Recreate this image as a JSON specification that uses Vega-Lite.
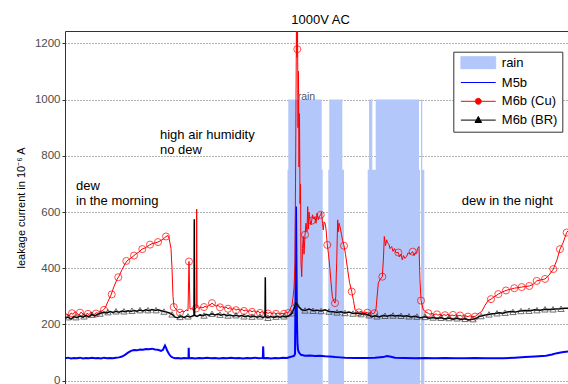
{
  "$schema": "https://vega.github.io/schema/vega-lite/v6.json",
  "autosize": {"type": "none"},
  "padding": {"left": 65, "top": 31, "right": 0, "bottom": 0},
  "width": 503,
  "height": 353,
  "background": "white",
  "config": {
    "font": "Liberation Sans",
    "view": {"stroke": null},
    "axis": {"labelFont": "Liberation Sans", "titleFont": "Liberation Sans"}
  },
  "title": {"text": "1000V AC", "fontSize": 13, "fontWeight": "normal", "color": "#000", "font": "Liberation Sans", "anchor": "middle", "frame": "group", "baseline": "alphabetic", "offset": 8, "dx": 4, "dy": 13.5},
  "datasets": {
    "rain": [
      {"t1": 222.5, "t2": 257.7, "top": 750},
      {"t1": 223.3, "t2": 256.7, "top": 1000},
      {"t1": 263.3, "t2": 279, "top": 750},
      {"t1": 264.3, "t2": 277.3, "top": 1000},
      {"t1": 302.7, "t2": 355, "top": 750},
      {"t1": 356, "t2": 359.3, "top": 750},
      {"t1": 304, "t2": 307.3, "top": 1000},
      {"t1": 310.7, "t2": 354, "top": 1000},
      {"t1": 356, "t2": 357.3, "top": 1000}
    ],
    "m5b": [
      {"t":0,"v":80},{"t":3,"v":82},{"t":6,"v":79},{"t":9,"v":81},{"t":12,"v":80},{"t":15,"v":82},{"t":18,"v":79},{"t":21,"v":81},{"t":24,"v":80},{"t":27,"v":82},{"t":30,"v":80},{"t":33,"v":81},{"t":36,"v":79},{"t":39,"v":82},{"t":42,"v":80},{"t":45,"v":81},{"t":48,"v":80},{"t":51,"v":82},{"t":54,"v":83},{"t":57,"v":86},{"t":60,"v":92},{"t":63,"v":100},{"t":66,"v":106},{"t":69,"v":109},{"t":72,"v":108},{"t":75,"v":111},{"t":78,"v":110},{"t":81,"v":113},{"t":84,"v":112},{"t":87,"v":114},{"t":90,"v":111},{"t":93,"v":110},{"t":96,"v":106},{"t":98,"v":110},{"t":99,"v":118},{"t":100,"v":125},{"t":101,"v":118},{"t":102,"v":108},{"t":104,"v":95},{"t":106,"v":86},{"t":108,"v":82},{"t":110,"v":80},{"t":113,"v":81},{"t":116,"v":79},{"t":119,"v":81},{"t":122,"v":80},{"t":123.5,"v":80},{"t":123.7,"v":117},{"t":124,"v":80},{"t":127,"v":81},{"t":130,"v":79},{"t":134,"v":81},{"t":138,"v":80},{"t":142,"v":82},{"t":146,"v":80},{"t":150,"v":81},{"t":154,"v":79},{"t":158,"v":81},{"t":162,"v":80},{"t":166,"v":82},{"t":170,"v":80},{"t":174,"v":81},{"t":178,"v":79},{"t":182,"v":81},{"t":186,"v":80},{"t":190,"v":82},{"t":194,"v":80},{"t":197.8,"v":81},{"t":198.2,"v":122},{"t":198.6,"v":80},{"t":202,"v":81},{"t":206,"v":79},{"t":210,"v":81},{"t":214,"v":80},{"t":218,"v":82},{"t":222,"v":81},{"t":226,"v":85},{"t":229,"v":88},{"t":230,"v":95},{"t":230.5,"v":300},{"t":231,"v":620},{"t":231.5,"v":400},{"t":232,"v":200},{"t":232.5,"v":130},{"t":233,"v":110},{"t":234,"v":100},{"t":236,"v":92},{"t":240,"v":89},{"t":245,"v":90},{"t":250,"v":88},{"t":255,"v":89},{"t":260,"v":87},{"t":265,"v":86},{"t":270,"v":84},{"t":275,"v":83},{"t":280,"v":82},{"t":290,"v":81},{"t":300,"v":81},{"t":310,"v":82},{"t":318,"v":84},{"t":322,"v":88},{"t":326,"v":85},{"t":330,"v":82},{"t":340,"v":81},{"t":350,"v":80},{"t":360,"v":81},{"t":370,"v":80},{"t":380,"v":81},{"t":390,"v":80},{"t":400,"v":80},{"t":410,"v":81},{"t":420,"v":80},{"t":430,"v":80},{"t":438,"v":80},{"t":450,"v":82},{"t":460,"v":84},{"t":470,"v":86},{"t":481,"v":89},{"t":487,"v":93},{"t":492,"v":98},{"t":497,"v":101},{"t":503,"v":104}
    ],
    "cu": [
      {"t":0,"v":232},{"t":2,"v":238},{"t":4,"v":229},{"t":6,"v":241},{"t":8,"v":236},{"t":10,"v":246},{"t":12,"v":240},{"t":14,"v":233},{"t":16,"v":244},{"t":18,"v":237},{"t":20,"v":229},{"t":22,"v":240},{"t":24,"v":235},{"t":26,"v":244},{"t":28,"v":231},{"t":30,"v":239},{"t":32,"v":242},{"t":34,"v":236},{"t":36,"v":247},{"t":38,"v":250},{"t":40,"v":258},{"t":43,"v":282},{"t":46,"v":305},{"t":49,"v":335},{"t":52,"v":360},{"t":54,"v":372},{"t":57,"v":395},{"t":60,"v":415},{"t":62,"v":426},{"t":65,"v":434},{"t":68,"v":442},{"t":71,"v":451},{"t":74,"v":458},{"t":77,"v":468},{"t":80,"v":472},{"t":83,"v":479},{"t":86,"v":486},{"t":89,"v":489},{"t":92,"v":492},{"t":95,"v":497},{"t":98,"v":503},{"t":101,"v":513},{"t":103,"v":516},{"t":104,"v":508},{"t":106,"v":470},{"t":107,"v":400},{"t":108,"v":300},{"t":109,"v":262},{"t":111,"v":255},{"t":113,"v":245},{"t":115,"v":242},{"t":117,"v":248},{"t":119,"v":244},{"t":121,"v":252},{"t":123,"v":249},{"t":124,"v":424},{"t":125,"v":255},{"t":127,"v":256},{"t":129,"v":252},{"t":131.3,"v":258},{"t":131.7,"v":610},{"t":132.1,"v":262},{"t":134,"v":257},{"t":136,"v":262},{"t":138,"v":259},{"t":140,"v":265},{"t":142,"v":261},{"t":144,"v":268},{"t":146,"v":272},{"t":147,"v":276},{"t":149,"v":270},{"t":151,"v":265},{"t":153,"v":268},{"t":155,"v":261},{"t":157,"v":264},{"t":159,"v":258},{"t":161,"v":262},{"t":163,"v":256},{"t":165,"v":260},{"t":167,"v":253},{"t":169,"v":257},{"t":171,"v":251},{"t":173,"v":255},{"t":175,"v":250},{"t":177,"v":254},{"t":179,"v":248},{"t":181,"v":252},{"t":183,"v":246},{"t":185,"v":250},{"t":187,"v":245},{"t":189,"v":249},{"t":191,"v":243},{"t":193,"v":247},{"t":195,"v":241},{"t":197,"v":246},{"t":199,"v":240},{"t":201,"v":244},{"t":203,"v":239},{"t":205,"v":243},{"t":207,"v":238},{"t":209,"v":242},{"t":211,"v":238},{"t":213,"v":241},{"t":215,"v":237},{"t":217,"v":240},{"t":219,"v":238},{"t":221,"v":242},{"t":223,"v":241},{"t":225,"v":252},{"t":227,"v":270},{"t":228,"v":295},{"t":229,"v":330},{"t":230,"v":420},{"t":230.5,"v":700},{"t":231,"v":1000},{"t":231.5,"v":1300},{"t":232,"v":1150},{"t":232.5,"v":1300},{"t":233,"v":900},{"t":233.5,"v":1100},{"t":234,"v":760},{"t":234.5,"v":950},{"t":235,"v":630},{"t":235.5,"v":700},{"t":236,"v":420},{"t":236.7,"v":370},{"t":237.5,"v":470},{"t":238.3,"v":513},{"t":239,"v":450},{"t":240,"v":519},{"t":241,"v":560},{"t":242,"v":530},{"t":242.7,"v":619},{"t":243.5,"v":540},{"t":244,"v":600},{"t":245,"v":572},{"t":246,"v":555},{"t":246.7,"v":569},{"t":247.5,"v":590},{"t":248.5,"v":575},{"t":250,"v":584},{"t":251,"v":560},{"t":252,"v":595},{"t":253.3,"v":572},{"t":254.5,"v":585},{"t":255.7,"v":590},{"t":256.5,"v":600},{"t":257.5,"v":560},{"t":258.3,"v":536},{"t":259,"v":565},{"t":260,"v":561},{"t":261,"v":540},{"t":262.3,"v":483},{"t":263.5,"v":450},{"t":265,"v":394},{"t":266,"v":350},{"t":267.3,"v":300},{"t":268.5,"v":285},{"t":270,"v":276},{"t":270.8,"v":300},{"t":271.3,"v":380},{"t":271.7,"v":418},{"t":272.2,"v":500},{"t":272.7,"v":572},{"t":273.3,"v":530},{"t":274,"v":560},{"t":275,"v":548},{"t":276.5,"v":520},{"t":277.5,"v":500},{"t":279,"v":480},{"t":280.5,"v":450},{"t":282.7,"v":394},{"t":284.5,"v":350},{"t":286.7,"v":317},{"t":288.5,"v":285},{"t":290,"v":252},{"t":292,"v":247},{"t":294,"v":243},{"t":296,"v":246},{"t":298,"v":241},{"t":300,"v":244},{"t":302.3,"v":242},{"t":304,"v":239},{"t":306,"v":243},{"t":308,"v":238},{"t":309.3,"v":240},{"t":311,"v":255},{"t":313.3,"v":347},{"t":315,"v":360},{"t":317.3,"v":370},{"t":318.5,"v":440},{"t":319.3,"v":513},{"t":320.5,"v":480},{"t":321.7,"v":501},{"t":322.5,"v":490},{"t":324,"v":485},{"t":325,"v":470},{"t":326.7,"v":477},{"t":328,"v":460},{"t":329.5,"v":470},{"t":331,"v":455},{"t":333.3,"v":456},{"t":334.5,"v":440},{"t":336,"v":450},{"t":337.3,"v":430},{"t":338.5,"v":445},{"t":340,"v":435},{"t":341.7,"v":442},{"t":343,"v":455},{"t":345,"v":450},{"t":347.7,"v":459},{"t":349,"v":445},{"t":350,"v":455},{"t":351.7,"v":453},{"t":352.5,"v":470},{"t":354,"v":477},{"t":355,"v":359},{"t":356,"v":285},{"t":358,"v":255},{"t":360,"v":246},{"t":362,"v":242},{"t":363.3,"v":240},{"t":365,"v":236},{"t":367,"v":240},{"t":369,"v":234},{"t":371,"v":238},{"t":373,"v":233},{"t":375,"v":237},{"t":377,"v":231},{"t":379,"v":235},{"t":381,"v":232},{"t":383,"v":236},{"t":385,"v":230},{"t":387,"v":234},{"t":389,"v":231},{"t":391,"v":235},{"t":393,"v":230},{"t":395,"v":233},{"t":397,"v":229},{"t":399,"v":234},{"t":401,"v":230},{"t":403,"v":228},{"t":405,"v":231},{"t":407,"v":227},{"t":409,"v":229},{"t":410,"v":228},{"t":413,"v":238},{"t":416.7,"v":246},{"t":420,"v":268},{"t":423,"v":285},{"t":426,"v":290},{"t":429,"v":298},{"t":433.3,"v":308},{"t":437,"v":315},{"t":441,"v":321},{"t":445,"v":325},{"t":449.3,"v":329},{"t":453,"v":331},{"t":456.7,"v":333},{"t":460,"v":335},{"t":464.3,"v":337},{"t":468,"v":342},{"t":471.7,"v":355},{"t":475,"v":358},{"t":480,"v":362},{"t":484,"v":375},{"t":488.3,"v":397},{"t":492,"v":430},{"t":495,"v":468},{"t":498,"v":490},{"t":501.7,"v":527},{"t":503,"v":533}
    ],
    "cu_marks": [
      {"t":7,"v":240},{"t":15,"v":242},{"t":23,"v":238},{"t":31,"v":239},{"t":39,"v":252},{"t":46.7,"v":307},{"t":53.3,"v":368},{"t":61.3,"v":426},{"t":69,"v":445},{"t":77.3,"v":468},{"t":85,"v":484},{"t":93,"v":493},{"t":101,"v":513},{"t":108.7,"v":262},{"t":115,"v":242},{"t":124,"v":424},{"t":131,"v":257},{"t":139,"v":262},{"t":147,"v":276},{"t":155,"v":261},{"t":163,"v":256},{"t":171,"v":251},{"t":179,"v":248},{"t":187,"v":245},{"t":195,"v":241},{"t":203,"v":239},{"t":211,"v":238},{"t":219,"v":238},{"t":223.3,"v":241},{"t":232.3,"v":1179},{"t":240,"v":519},{"t":246.7,"v":569},{"t":255.7,"v":590},{"t":262.3,"v":483},{"t":270,"v":276},{"t":279,"v":480},{"t":286.7,"v":317},{"t":294,"v":243},{"t":302.3,"v":242},{"t":309.3,"v":240},{"t":317.3,"v":370},{"t":333.3,"v":456},{"t":347.7,"v":459},{"t":356,"v":285},{"t":363.3,"v":240},{"t":372,"v":236},{"t":380,"v":233},{"t":388,"v":234},{"t":395,"v":232},{"t":403,"v":228},{"t":410,"v":228},{"t":426,"v":290},{"t":433.3,"v":308},{"t":441,"v":321},{"t":449.3,"v":329},{"t":456.7,"v":333},{"t":464.3,"v":337},{"t":471.7,"v":355},{"t":480,"v":362},{"t":488.3,"v":397},{"t":495,"v":468},{"t":501.7,"v":527}
    ],
    "br": [
      {"t":0,"v":222},{"t":3,"v":226},{"t":6,"v":219},{"t":9,"v":228},{"t":12,"v":224},{"t":15,"v":230},{"t":18,"v":226},{"t":21,"v":232},{"t":24,"v":228},{"t":27,"v":235},{"t":30,"v":231},{"t":33,"v":237},{"t":36,"v":240},{"t":39,"v":244},{"t":42,"v":241},{"t":45,"v":246},{"t":48,"v":243},{"t":51,"v":247},{"t":54,"v":244},{"t":57,"v":248},{"t":60,"v":245},{"t":63,"v":249},{"t":66,"v":246},{"t":69,"v":250},{"t":72,"v":247},{"t":75,"v":251},{"t":78,"v":248},{"t":81,"v":252},{"t":84,"v":249},{"t":87,"v":253},{"t":90,"v":250},{"t":93,"v":252},{"t":96,"v":249},{"t":99,"v":246},{"t":102,"v":244},{"t":105,"v":240},{"t":108,"v":233},{"t":110,"v":226},{"t":113,"v":224},{"t":116,"v":229},{"t":119,"v":225},{"t":122,"v":230},{"t":125,"v":227},{"t":129,"v":232},{"t":129.3,"v":574},{"t":129.6,"v":233},{"t":132,"v":229},{"t":135,"v":234},{"t":138,"v":231},{"t":141,"v":236},{"t":144,"v":233},{"t":147,"v":238},{"t":150,"v":234},{"t":153,"v":237},{"t":156,"v":233},{"t":159,"v":236},{"t":162,"v":231},{"t":165,"v":234},{"t":168,"v":230},{"t":171,"v":233},{"t":174,"v":229},{"t":177,"v":232},{"t":180,"v":228},{"t":183,"v":231},{"t":186,"v":227},{"t":189,"v":230},{"t":192,"v":226},{"t":195,"v":229},{"t":198,"v":225},{"t":200,"v":228},{"t":200.3,"v":368},{"t":200.6,"v":227},{"t":203,"v":224},{"t":206,"v":228},{"t":209,"v":225},{"t":212,"v":229},{"t":215,"v":226},{"t":218,"v":230},{"t":221,"v":227},{"t":224,"v":231},{"t":227,"v":240},{"t":229,"v":258},{"t":231,"v":276},{"t":232,"v":270},{"t":234,"v":262},{"t":236.7,"v":252},{"t":240,"v":250},{"t":244,"v":255},{"t":248,"v":249},{"t":252,"v":251},{"t":256,"v":248},{"t":260,"v":252},{"t":264,"v":246},{"t":268,"v":245},{"t":272,"v":243},{"t":276,"v":245},{"t":280,"v":241},{"t":284,"v":244},{"t":288,"v":239},{"t":292,"v":241},{"t":296,"v":237},{"t":300,"v":238},{"t":304,"v":233},{"t":306.7,"v":228},{"t":310,"v":231},{"t":314,"v":227},{"t":318,"v":232},{"t":322,"v":229},{"t":326,"v":233},{"t":330,"v":230},{"t":334,"v":232},{"t":338,"v":229},{"t":342,"v":231},{"t":346,"v":227},{"t":350,"v":229},{"t":353.3,"v":226},{"t":356,"v":224},{"t":360,"v":227},{"t":364,"v":222},{"t":368,"v":225},{"t":372,"v":221},{"t":376,"v":224},{"t":380,"v":220},{"t":384,"v":223},{"t":388,"v":219},{"t":392,"v":222},{"t":396,"v":218},{"t":400,"v":220},{"t":404,"v":216},{"t":408,"v":219},{"t":411,"v":222},{"t":414,"v":228},{"t":418,"v":232},{"t":422,"v":235},{"t":426,"v":237},{"t":430,"v":239},{"t":434,"v":242},{"t":438,"v":240},{"t":442,"v":244},{"t":446,"v":246},{"t":450,"v":244},{"t":455,"v":248},{"t":460,"v":250},{"t":465,"v":249},{"t":470,"v":252},{"t":475,"v":251},{"t":480,"v":254},{"t":485,"v":253},{"t":490,"v":255},{"t":495,"v":256},{"t":500,"v":258},{"t":503,"v":258}
    ],
    "br_marks": [
      {"t":3,"v":226},{"t":11,"v":226},{"t":19,"v":229},{"t":27,"v":235},{"t":35,"v":239},{"t":43,"v":244},{"t":51,"v":247},{"t":59,"v":247},{"t":67,"v":249},{"t":75,"v":251},{"t":83,"v":251},{"t":91,"v":251},{"t":99,"v":246},{"t":107,"v":236},{"t":115,"v":227},{"t":123,"v":229},{"t":139,"v":232},{"t":147,"v":238},{"t":155,"v":235},{"t":163,"v":232},{"t":171,"v":233},{"t":179,"v":229},{"t":187,"v":228},{"t":195,"v":229},{"t":203,"v":224},{"t":211,"v":228},{"t":219,"v":229},{"t":227,"v":240},{"t":231,"v":276},{"t":240,"v":250},{"t":248,"v":249},{"t":256,"v":248},{"t":264,"v":246},{"t":272,"v":243},{"t":280,"v":241},{"t":288,"v":239},{"t":296,"v":237},{"t":304,"v":233},{"t":312,"v":229},{"t":320,"v":231},{"t":328,"v":232},{"t":336,"v":231},{"t":344,"v":229},{"t":352,"v":228},{"t":360,"v":227},{"t":368,"v":225},{"t":376,"v":224},{"t":384,"v":223},{"t":392,"v":222},{"t":400,"v":220},{"t":408,"v":219},{"t":416,"v":230},{"t":424,"v":236},{"t":432,"v":240},{"t":440,"v":242},{"t":448,"v":245},{"t":456,"v":248},{"t":464,"v":249},{"t":472,"v":251},{"t":480,"v":254},{"t":488,"v":254},{"t":496,"v":256}
    ],
    "notes": [
      {"t": 11, "v": 677, "label": "dew\nin the morning"},
      {"t": 95, "v": 858, "label": "high air humidity\nno dew"},
      {"t": 396.7, "v": 625, "label": "dew in the night"}
    ],
    "rainlabel": [
      {"t": 232.7, "v": 1000, "label": "rain"}
    ]
  },
  "encoding": {
    "x": {"field": "t", "type": "quantitative", "scale": {"domain": [0, 503], "nice": false, "zero": false},
      "axis": {"orient": "top", "labels": false, "ticks": false, "grid": false, "title": null, "domainColor": "#333333"}},
    "y": {"field": "v", "type": "quantitative", "scale": {"domain": [-11.7, 1243.8], "nice": false, "zero": false},
      "axis": {"values": [0, 200, 400, 600, 800, 1000, 1200], "format": "d", "title": "leakage current in 10⁻⁶ A", "titleFontSize": 11, "titleFontWeight": "normal", "titleColor": "#000000", "titleX": -43.3, "titleBaseline": "middle", "labelFontSize": 11.5, "labelColor": "#4d4d4d", "tickSize": 3, "tickColor": "#333333", "labelPadding": 2, "domainColor": "#333333", "gridColor": "#666666", "gridDash": [1, 2], "gridWidth": 1}}
  },
  "layer": [
    {
      "data": {"name": "rain"},
      "mark": {"type": "rect", "clip": true},
      "encoding": {
        "x": {"field": "t1", "type": "quantitative"},
        "x2": {"field": "t2"},
        "y": {"field": "top", "type": "quantitative"},
        "y2": {"datum": -11.7},
        "color": {"datum": "rain", "type": "nominal",
          "scale": {"domain": ["rain", "M5b", "M6b (Cu)", "M6b (BR)"], "range": ["#b3c7fa", "#0000ff", "#ff0000", "#000000"]},
          "legend": {
            "orient": "none", "legendX": 388.3, "legendY": 20.7, "title": null,
            "symbolSize": 144, "symbolStrokeWidth": 1, "symbolOffset": 14, "labelOffset": 17,
            "labelFont": "Liberation Sans", "labelFontSize": 13, "labelColor": "#000000",
            "rowPadding": 4.8, "padding": 4.5, "strokeColor": "#333333", "fillColor": "#ffffff",
            "labelExpr": "datum.label + '  '",
            "encode": {"symbols": {"update": {
              "shape": {"signal": "datum.value === 'rain' ? 'M-2.9,-1H2.9V1H-2.9Z' : datum.value === 'M5b' ? 'M-2.9,0H2.9' : datum.value === 'M6b (Cu)' ? 'M-2.9,0H-0.5M0.5,0H2.9M-0.5,0A0.5,0.5,0,1,1,0.5,0A0.5,0.5,0,1,1,-0.5,0' : 'M-2.9,0H-0.35M0.35,0H2.9M-0.55,0.4L0,-0.6L0.55,0.4Z'"},
              "fill": {"signal": "datum.value === 'rain' ? '#b3c7fa' : 'transparent'"},
              "stroke": {"signal": "datum.value === 'rain' ? 'transparent' : datum.value === 'M5b' ? '#6f6fff' : datum.value === 'M6b (Cu)' ? '#ff2020' : '#707070'"},
              "strokeWidth": {"value": 1},
              "opacity": {"value": 1}
            }}}
          }}
      }
    },
    {
      "data": {"name": "m5b"},
      "mark": {"type": "line", "clip": true, "strokeWidth": 2},
      "encoding": {"color": {"datum": "M5b", "type": "nominal"}}
    },
    {
      "data": {"name": "cu"},
      "mark": {"type": "line", "clip": true, "strokeWidth": 1},
      "encoding": {"color": {"datum": "M6b (Cu)", "type": "nominal"}}
    },
    {
      "data": {"name": "cu_marks"},
      "mark": {"type": "point", "clip": true, "shape": "circle", "filled": false, "stroke": "#ff0000", "strokeWidth": 1, "size": 50}
    },
    {
      "data": {"name": "br"},
      "mark": {"type": "line", "clip": true, "strokeWidth": 1.5},
      "encoding": {"color": {"datum": "M6b (BR)", "type": "nominal"}}
    },
    {
      "data": {"name": "br_marks"},
      "mark": {"type": "point", "clip": true, "shape": "triangle-up", "filled": false, "stroke": "#333333", "strokeWidth": 1, "size": 40}
    },
    {
      "data": {"name": "notes"},
      "mark": {"type": "text", "align": "left", "baseline": "alphabetic", "lineBreak": "\n", "lineHeight": 15, "fontSize": 13, "font": "Liberation Sans", "color": "#000000"},
      "encoding": {"text": {"field": "label"}}
    },
    {
      "data": {"name": "rainlabel"},
      "mark": {"type": "text", "align": "left", "baseline": "alphabetic", "fontSize": 10.5, "font": "Liberation Sans", "color": "#555555"},
      "encoding": {"text": {"field": "label"}}
    }
  ]
}
